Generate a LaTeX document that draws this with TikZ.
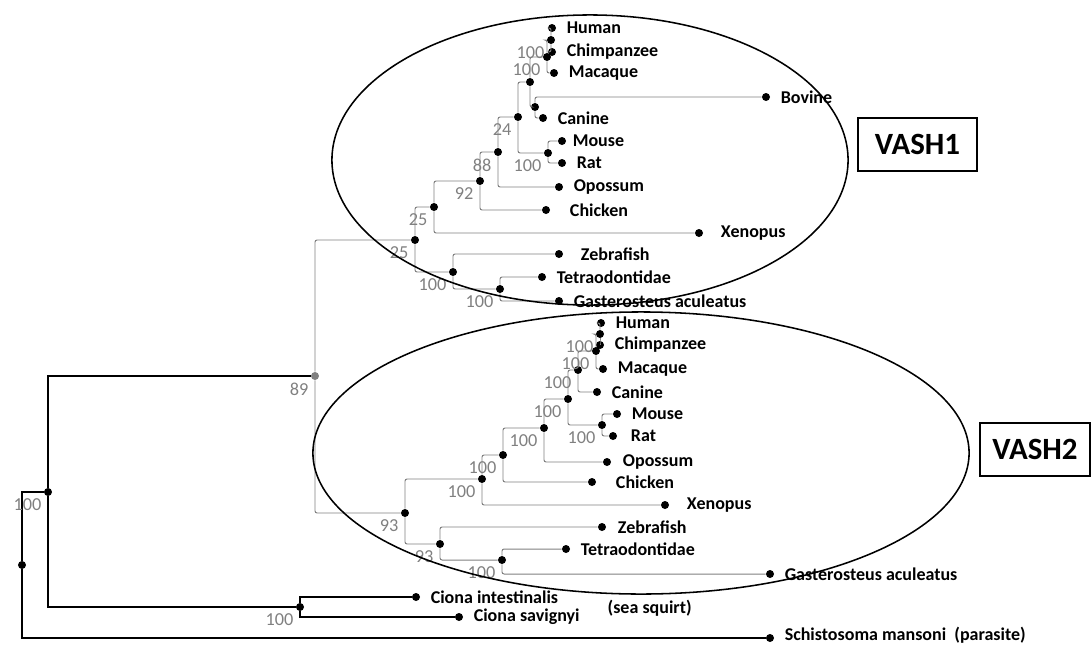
\documentclass[tikz,border=0pt]{standalone}
\usepackage{fontspec}
\setmainfont{Carlito}
\usetikzlibrary{positioning}

\tikzset{
  dot/.style={circle, fill=black, inner sep=0pt, minimum size=0.2cm},
  br/.style={draw=black!50, line width=0.7pt, rounded corners=1.5pt},
  rbr/.style={draw=black, line width=1.3pt},
  tip/.style={font=\fontsize{12.8}{15}\selectfont\bfseries, inner sep=1pt},
  bs/.style={font=\fontsize{13}{15}\selectfont, text=black!50, inner sep=1pt},
  clade/.style={draw=black, line width=1.1pt},
  gene/.style={draw=black, line width=1pt, font=\fontsize{22}{26}\selectfont\bfseries, minimum height=1.325cm},
}

\begin{document}
\begin{tikzpicture}[x=0.025cm, y=-0.025cm]
\useasboundingbox (0,0) rectangle (1092,645);

% VASH1 clade
\node[dot] (aHum) at (552,28) {};
\node[dot] (aHC) at (551,40) {};
\node[dot] (aChi) at (552,52) {};
\node[dot] (aPri) at (547,57) {};
\node[dot] (aMac) at (554,73) {};
\node[dot] (aF) at (530,82) {};
\node[dot] (aG) at (535,107) {};
\node[dot] (aBov) at (766,97) {};
\node[dot] (aCan) at (543,118) {};
\node[dot] (aE) at (518,117) {};
\node[dot] (aMR) at (548,153) {};
\node[dot] (aMou) at (562,141) {};
\node[dot] (aRat) at (562,163) {};
\node[dot] (aD) at (498,152) {};
\node[dot] (aOpo) at (559,187) {};
\node[dot] (aC) at (480,181) {};
\node[dot] (aChk) at (546,210) {};
\node[dot] (aB) at (434,207) {};
\node[dot] (aXen) at (699,233) {};
\node[dot] (aA) at (415,240) {};
\node[dot] (aZ) at (453,272) {};
\node[dot] (aZeb) at (559,254) {};
\node[dot] (aT) at (500,289) {};
\node[dot] (aTet) at (542,277) {};
\node[dot] (aGas) at (559,301) {};

\node[tip, right=0.22cm of aHum] (aHumT) {Human};
\node[tip, right=0.22cm of aChi] (aChiT) {Chimpanzee};
\node[tip, right=0.22cm of aMac] (aMacT) {Macaque};
\node[tip, right=0.22cm of aBov] (aBovT) {Bovine};
\node[tip, right=0.22cm of aCan] (aCanT) {Canine};
\node[tip, right=0.12cm of aMou] (aMouT) {Mouse};
\node[tip, right=0.22cm of aRat] (aRatT) {Rat};
\node[tip, right=0.22cm of aOpo] (aOpoT) {Opossum};
\node[tip, right=0.45cm of aChk] (aChkT) {Chicken};
\node[tip, right=0.4cm of aXen] (aXenT) {Xenopus};
\node[tip, right=0.4cm of aZeb] (aZebT) {Zebrafish};
\node[tip, right=0.22cm of aTet] (aTetT) {Tetraodontidae};
\node[tip, right=0.22cm of aGas] (aGasT) {Gasterosteus aculeatus};

\draw[br] (aHC) |- (aHum);  \draw[br] (aHC) |- (aChi);
\draw[br] (aPri) |- (aHC);  \draw[br] (aPri) |- (aMac);
\draw[br] (aF) |- (aPri);   \draw[br] (aF) |- (aG);
\draw[br] (aG) |- (aBov);   \draw[br] (aG) |- (aCan);
\draw[br] (aE) |- (aF);     \draw[br] (aE) |- (aMR);
\draw[br] (aMR) |- (aMou);  \draw[br] (aMR) |- (aRat);
\draw[br] (aD) |- (aE);     \draw[br] (aD) |- (aOpo);
\draw[br] (aC) |- (aD);     \draw[br] (aC) |- (aChk);
\draw[br] (aB) |- (aC);     \draw[br] (aB) |- (aXen);
\draw[br] (aA) |- (aB);     \draw[br] (aA) |- (aZ);
\draw[br] (aZ) |- (aZeb);   \draw[br] (aZ) |- (aT);
\draw[br] (aT) |- (aTet);   \draw[br] (aT) |- (aGas);

\node[bs, below left=1.4pt and 1.4pt of aHC] (aHCs) {100};
\node[bs, below left=1.4pt and 1.4pt of aPri] (aPris) {100};
\node[bs, below left=1.4pt and 1.4pt of aE] (aEs) {24};
\node[bs, below left=1.4pt and 1.4pt of aMR] (aMRs) {100};
\node[bs, below left=1.4pt and 1.4pt of aD] (aDs) {88};
\node[bs, below left=1.4pt and 1.4pt of aC] (aCs) {92};
\node[bs, below left=1.4pt and 1.4pt of aB] (aBs) {25};
\node[bs, below left=1.4pt and 1.4pt of aA] (aAs) {25};
\node[bs, below left=1.4pt and 1.4pt of aZ] (aZs) {100};
\node[bs, below left=1.4pt and 1.4pt of aT] (aTs) {100};

% VASH2 clade
\node[dot] (bHum) at (601,323) {};
\node[dot] (bHC) at (600,334) {};
\node[dot] (bChi) at (600,345) {};
\node[dot] (bPri) at (596,351) {};
\node[dot] (bMac) at (603,369) {};
\node[dot] (bP) at (578,370) {};
\node[dot] (bCan) at (597,392) {};
\node[dot] (bN1) at (568,399) {};
\node[dot] (bMR) at (602,425) {};
\node[dot] (bMou) at (617,414) {};
\node[dot] (bRat) at (613,436) {};
\node[dot] (bN2) at (544,428) {};
\node[dot] (bOpo) at (607,462) {};
\node[dot] (bN3) at (503,455) {};
\node[dot] (bChk) at (592,482) {};
\node[dot] (bN4) at (482,479) {};
\node[dot] (bXen) at (665,505) {};
\node[dot] (bN5) at (405,513) {};
\node[dot] (bN6) at (440,544) {};
\node[dot] (bZeb) at (602,527) {};
\node[dot] (bT) at (502,560) {};
\node[dot] (bTet) at (566,549) {};
\node[dot] (bGas) at (770,574) {};

\node[tip, right=0.22cm of bHum] (bHumT) {Human};
\node[tip, right=0.22cm of bChi] (bChiT) {Chimpanzee};
\node[tip, right=0.22cm of bMac] (bMacT) {Macaque};
\node[tip, right=0.22cm of bCan] (bCanT) {Canine};
\node[tip, right=0.22cm of bMou] (bMouT) {Mouse};
\node[tip, right=0.3cm of bRat] (bRatT) {Rat};
\node[tip, right=0.25cm of bOpo] (bOpoT) {Opossum};
\node[tip, right=0.45cm of bChk] (bChkT) {Chicken};
\node[tip, right=0.4cm of bXen] (bXenT) {Xenopus};
\node[tip, right=0.25cm of bZeb] (bZebT) {Zebrafish};
\node[tip, right=0.22cm of bTet] (bTetT) {Tetraodontidae};
\node[tip, right=0.22cm of bGas] (bGasT) {Gasterosteus aculeatus};

\draw[br] (bHC) |- (bHum);  \draw[br] (bHC) |- (bChi);
\draw[br] (bPri) |- (bHC);  \draw[br] (bPri) |- (bMac);
\draw[br] (bP) |- (bPri);   \draw[br] (bP) |- (bCan);
\draw[br] (bN1) |- (bP);    \draw[br] (bN1) |- (bMR);
\draw[br] (bMR) |- (bMou);  \draw[br] (bMR) |- (bRat);
\draw[br] (bN2) |- (bN1);   \draw[br] (bN2) |- (bOpo);
\draw[br] (bN3) |- (bN2);   \draw[br] (bN3) |- (bChk);
\draw[br] (bN4) |- (bN3);   \draw[br] (bN4) |- (bXen);
\draw[br] (bN5) |- (bN4);   \draw[br] (bN5) |- (bN6);
\draw[br] (bN6) |- (bZeb);  \draw[br] (bN6) |- (bT);
\draw[br] (bT) |- (bTet);   \draw[br] (bT) |- (bGas);

\node[bs, below left=1.4pt and 1.4pt of bHC] (bHCs) {100};
\node[bs, below left=1.4pt and 1.4pt of bPri] (bPris) {100};
\node[bs, below left=1.4pt and 1.4pt of bP] (bPs) {100};
\node[bs, below left=1.4pt and 1.4pt of bN1] (bN1s) {100};
\node[bs, below left=1.4pt and 1.4pt of bMR] (bMRs) {100};
\node[bs, below left=1.4pt and 1.4pt of bN2] (bN2s) {100};
\node[bs, below left=1.4pt and 1.4pt of bN3] (bN3s) {100};
\node[bs, below left=1.4pt and 1.4pt of bN4] (bN4s) {100};
\node[bs, below left=1.4pt and 1.4pt of bN5] (bN5s) {93};
\node[bs, below left=1.4pt and 1.4pt of bN6] (bN6s) {93};
\node[bs, below left=1.4pt and 1.4pt of bT] (bTs) {100};

% deep nodes and outgroups
\node[dot, fill=black!50] (n89) at (315,376) {};
\node[dot] (n100) at (48,492) {};
\node[dot] (root) at (22,565) {};
\node[dot] (cio) at (300,607) {};
\node[dot] (cioInt) at (416,597) {};
\node[dot] (cioSav) at (459,617) {};
\node[dot] (sch) at (770,638) {};

\node[tip, right=0.22cm of cioInt] (cioIntT) {Ciona intestinalis};
\node[tip, right=0.22cm of cioSav] (cioSavT) {Ciona savignyi};
\node[tip, anchor=west] (sqt) at (606,608) {(sea squirt)};
\node[tip, right=0.22cm of sch, yshift=0.07cm] (schT) {Schistosoma mansoni~~(parasite)};

\draw[br] (n89) |- (aA);    \draw[br] (n89) |- (bN5);
\draw[rbr] (n100) |- (n89); \draw[rbr] (n100) |- (cio);
\draw[rbr] (root) |- (n100); \draw[rbr] (root) |- (sch);
\draw[rbr] (cio) |- (cioInt); \draw[rbr] (cio) |- (cioSav);

\node[bs, below left=1.4pt and 1.4pt of n89] (n89s) {89};
\node[bs, below left=1.4pt and 1.4pt of n100] (n100s) {100};
\node[bs, below left=1.4pt and 1.4pt of cio] (cios) {100};

% clade outlines
\draw[clade] (590,160) ellipse [x radius=6.45cm, y radius=3.625cm];
\draw[clade] (641,453) ellipse [x radius=8.2cm, y radius=3.525cm];

\node[gene, minimum width=2.975cm] (vash1) at (917.5,144.5) {VASH1};
\node[gene, minimum width=2.75cm] (vash2) at (1035,449.5) {VASH2};

\end{tikzpicture}
\end{document}
